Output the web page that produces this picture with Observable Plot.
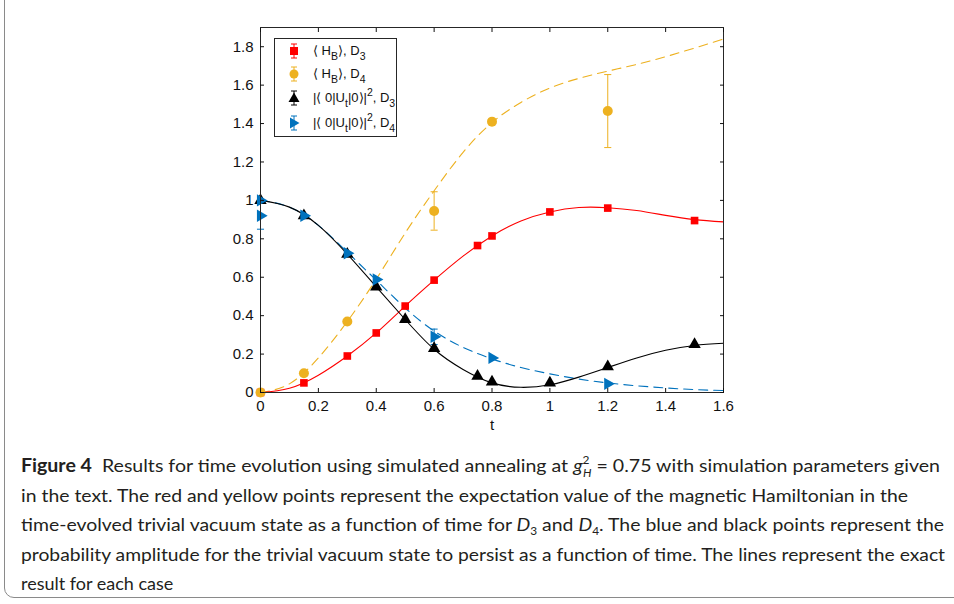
<!DOCTYPE html>
<html>
<head>
<meta charset="utf-8">
<script src="https://cdn.jsdelivr.net/npm/d3@7"></script>
<script src="https://cdn.jsdelivr.net/npm/@observablehq/plot@0.6"></script>
<style>
  html, body { margin: 0; padding: 0; background: #fff; overflow: hidden; }
  #wrap { position: relative; width: 954px; height: 604px; }
  #frame { position: absolute; left: 4px; top: -14px; width: 990px; height: 612px;
           border: 1.5px solid #8a8a8a; border-radius: 10px; box-sizing: border-box; }
  #chart { position: absolute; left: 0; top: 0; }
  #legend { position: absolute; left: 274px; top: 38px; width: 123px; height: 99px;
            border: 1px solid #262626; box-sizing: border-box; background: #fff;
            font-family: "Liberation Sans", Arial, sans-serif; font-size: 13px; color: #111; }
  .lrow { position: absolute; left: 0; height: 20px; width: 121px; }
  .lrow svg { position: absolute; left: 12px; top: 0; }
  .lrow .lt { position: absolute; left: 38px; top: 1px; white-space: nowrap; line-height: 17px; }
  .lt sub { font-size: 10.5px; vertical-align: -5px; line-height: 0; }
  .lt sup { font-size: 10.5px; vertical-align: 6px; line-height: 0; }
  #caption { position: absolute; left: 0; top: 440px; }
</style>
</head>
<body>
<div id="wrap">
  <div id="frame"></div>
  <div id="chart"></div>
  <div id="legend"></div>
  <svg id="caption" width="954" height="164"></svg>
</div>
<script>
// ---------------- data ----------------
const xTicks = [0, 0.2, 0.4, 0.6, 0.8, 1, 1.2, 1.4, 1.6];
const yTicks = [0, 0.2, 0.4, 0.6, 0.8, 1, 1.2, 1.4, 1.6, 1.8];

// <H_B>, D3 (red squares)
const redT = [0, 0.15, 0.3, 0.4, 0.5, 0.6, 0.75, 0.8, 1.0, 1.2, 1.5];
const redV = [0, 0.05, 0.19, 0.31, 0.45, 0.585, 0.765, 0.815, 0.94, 0.96, 0.895];
// <H_B>, D4 (yellow circles)
const yelT = [0, 0.15, 0.3, 0.6, 0.8, 1.2];
const yelV = [0, 0.1, 0.37, 0.945, 1.41, 1.465];
const yelErr = [0, 0, 0, 0.1, 0, 0.19];
// |<0|U_t|0>|^2, D3 (black triangles)
const blkT = [0, 0.15, 0.3, 0.4, 0.5, 0.6, 0.75, 0.8, 1.0, 1.2, 1.5];
const blkV = [1.0, 0.92, 0.72, 0.55, 0.38, 0.23, 0.085, 0.055, 0.05, 0.135, 0.25];
// |<0|U_t|0>|^2, D4 (blue right triangles)
const bluT = [0, 0, 0.15, 0.3, 0.4, 0.6, 0.8, 1.2];
const bluV = [1.0, 0.92, 0.92, 0.725, 0.588, 0.29, 0.18, 0.045];
const bluErr = [0, 0.07, 0, 0, 0, 0.04, 0, 0];

// exact results (lines)
const lineT = [0, 0.1, 0.2, 0.3, 0.4, 0.5, 0.6, 0.7, 0.8, 0.9, 1.0, 1.1, 1.2, 1.3, 1.4, 1.5, 1.6];
const redLine = [0, 0.022, 0.09, 0.19, 0.31, 0.45, 0.585, 0.71, 0.815, 0.893, 0.94, 0.963, 0.962, 0.947, 0.922, 0.9, 0.888];
const yelLine = [0, 0.045, 0.18, 0.37, 0.59, 0.83, 1.05, 1.25, 1.405, 1.51, 1.585, 1.635, 1.673, 1.708, 1.748, 1.793, 1.84];
const blkLine = [1.0, 0.965, 0.87, 0.72, 0.55, 0.38, 0.225, 0.12, 0.05, 0.027, 0.04, 0.08, 0.13, 0.18, 0.22, 0.245, 0.256];
const bluLine = [1.0, 0.965, 0.87, 0.73, 0.585, 0.44, 0.32, 0.235, 0.175, 0.13, 0.097, 0.07, 0.05, 0.035, 0.024, 0.015, 0.01];

const colors = {red: "#ff0000", yel: "#edb120", blk: "#000000", blu: "#0072bd"};

const legendLabels = [
  "⟨ H<sub>B</sub>⟩, D<sub>3</sub>",
  "⟨ H<sub>B</sub>⟩, D<sub>4</sub>",
  "|⟨ 0|U<sub>t</sub>|0⟩|<sup>2</sup>, D<sub>3</sub>",
  "|⟨ 0|U<sub>t</sub>|0⟩|<sup>2</sup>, D<sub>4</sub>"
];
const legendColors = [colors.red, colors.yel, colors.blk, colors.blu];
const legendSymbols = ["square", "circle", "triangle", "triangleRight"];

// ---------------- build tables ----------------
const pts = (T, V, E) => T.map((t, i) => ({t, v: V[i], e: E ? E[i] : 0}));
const red = pts(redT, redV);
const yel = pts(yelT, yelV, yelErr);
const blk = pts(blkT, blkV);
const blu = pts(bluT, bluV, bluErr);
const curve = (V) => lineT.map((t, i) => ({t, v: V[i]}));

const capSymbol = {draw(ctx, size) { const r = Math.sqrt(size) / 2; ctx.moveTo(-r, 0); ctx.lineTo(r, 0); }};
const errMarks = (data, color) => {
  const d = data.filter(p => p.e > 0);
  return [
    Plot.ruleX(d, {x: "t", y1: p => p.v - p.e, y2: p => p.v + p.e, stroke: color, strokeWidth: 1}),
    Plot.dot(d, {x: "t", y: p => p.v - p.e, symbol: capSymbol, r: 4, stroke: color, strokeWidth: 1}),
    Plot.dot(d, {x: "t", y: p => p.v + p.e, symbol: capSymbol, r: 4, stroke: color, strokeWidth: 1})
  ];
};

const axisFont = {fontSize: 15, fill: "#111"};
const chart = Plot.plot({
  width: 954,
  height: 440,
  marginLeft: 260,
  marginRight: 231,
  marginTop: 27,
  marginBottom: 48,
  style: {fontFamily: "'Liberation Sans', Arial, sans-serif", fontSize: "15px", color: "#111", background: "transparent"},
  x: {domain: [0, 1.6]},
  y: {domain: [0, 1.9]},
  marks: [
    Plot.line(curve(yelLine), {x: "t", y: "v", stroke: colors.yel, strokeWidth: 1.1, strokeDasharray: "9,6", curve: "natural"}),
    Plot.line(curve(bluLine), {x: "t", y: "v", stroke: colors.blu, strokeWidth: 1.1, strokeDasharray: "9,6", curve: "natural"}),
    Plot.line(curve(redLine), {x: "t", y: "v", stroke: colors.red, strokeWidth: 1.1, curve: "natural"}),
    Plot.line(curve(blkLine), {x: "t", y: "v", stroke: colors.blk, strokeWidth: 1.1, curve: "natural"}),
    ...errMarks(yel, colors.yel),
    ...errMarks(blu, colors.blu),
    Plot.dot(red, {x: "t", y: "v", symbol: "square", r: 4.3, fill: colors.red}),
    Plot.dot(yel, {x: "t", y: "v", symbol: "circle", r: 5, fill: colors.yel}),
    Plot.dot(blk, {x: "t", y: "v", symbol: "triangle", r: 4.6, fill: colors.blk}),
    Plot.dot(blu, {x: "t", y: "v", symbol: "triangle", r: 4.6, rotate: 90, fill: colors.blu}),
    Plot.frame({stroke: "#262626", strokeWidth: 1}),
    Plot.axisX({ticks: xTicks, tickFormat: d => String(d), anchor: "bottom", tickSize: -4, tickPadding: 12,
                label: "t", labelAnchor: "center", labelArrow: "none", labelOffset: 37, ...axisFont}),
    Plot.axisX({ticks: xTicks, anchor: "top", tickSize: -4, text: null, label: null}),
    Plot.axisY({ticks: yTicks, tickFormat: d => String(d), anchor: "left", tickSize: -4, tickPadding: 11, label: null, ...axisFont}),
    Plot.axisY({ticks: yTicks, anchor: "right", tickSize: -4, text: null, label: null})
  ]
});
document.getElementById("chart").appendChild(chart);

// ---------------- legend ----------------
const rowCenters = [50, 73, 97, 122];
const leg = d3.select("#legend");
legendLabels.forEach((lab, i) => {
  const row = leg.append("div").attr("class", "lrow").style("top", (rowCenters[i] - 38 - 10) + "px");
  const svg = row.append("svg").attr("width", 14).attr("height", 20);
  const c = legendColors[i];
  svg.append("line").attr("x1", 7).attr("x2", 7).attr("y1", 3).attr("y2", 17).attr("stroke", c);
  svg.append("line").attr("x1", 4).attr("x2", 10).attr("y1", 3).attr("y2", 3).attr("stroke", c);
  svg.append("line").attr("x1", 4).attr("x2", 10).attr("y1", 17).attr("y2", 17).attr("stroke", c);
  const s = legendSymbols[i];
  if (s === "square") svg.append("rect").attr("x", 3).attr("y", 6).attr("width", 8).attr("height", 8).attr("fill", c);
  else if (s === "circle") svg.append("circle").attr("cx", 7).attr("cy", 10).attr("r", 4.5).attr("fill", c);
  else if (s === "triangle") svg.append("path").attr("d", "M7,4.5L12.5,14L1.5,14Z").attr("fill", c);
  else svg.append("path").attr("d", "M3,4.5L12.5,10L3,15.5Z").attr("fill", c);
  row.append("div").attr("class", "lt").html(lab);
});

// ---------------- caption ----------------
const captionLines = [
  [{t: "Figure 4", b: true}, {t: "  Results for time evolution using simulated annealing at "}, {t: "g", i: true},
   {t: "2", s: true, dy: -8}, {t: "H", i: true, s: true, dx: -6, dy: 13}, {t: " = 0.75 with simulation parameters given", dy: -5}],
  [{t: "in the text. The red and yellow points represent the expectation value of the magnetic Hamiltonian in the"}],
  [{t: "time-evolved trivial vacuum state as a function of time for "}, {t: "D", i: true}, {t: "3", s: true, dy: 4},
   {t: " and ", dy: -4}, {t: "D", i: true}, {t: "4", s: true, dy: 4}, {t: ". The blue and black points represent the", dy: -4}],
  [{t: "probability amplitude for the trivial vacuum state to persist as a function of time. The lines represent the exact"}],
  [{t: "result for each case"}]
];
const captionBaselines = [32, 61.5, 91, 120.5, 150];
const captionWidths = [919, 887, 923, 924, 0];
const cap = d3.select("#caption");
captionLines.forEach((segs, i) => {
  const txt = cap.append("text").attr("x", 21).attr("y", captionBaselines[i])
    .attr("font-family", "Lato, 'Open Sans', sans-serif").attr("font-size", 18).attr("fill", "#231f20")
    .attr("xml:space", "preserve").style("white-space", "pre");
  segs.forEach(sg => {
    const ts = txt.append("tspan").text(sg.t);
    if (sg.b) ts.attr("font-weight", "bold");
    if (sg.i) ts.attr("font-style", "italic");
    if (sg.s) ts.attr("font-size", 11);
    if (sg.dy) ts.attr("dy", sg.dy);
    if (sg.dx) ts.attr("dx", sg.dx);
  });
  if (captionWidths[i]) txt.attr("textLength", captionWidths[i]).attr("lengthAdjust", "spacingAndGlyphs");
});
</script>
</body>
</html>
